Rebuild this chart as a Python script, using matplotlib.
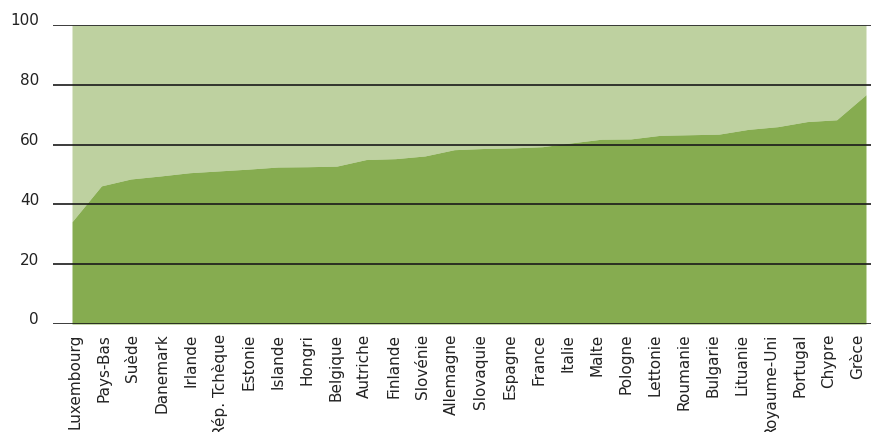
import matplotlib
matplotlib.use('Agg')
import matplotlib.pyplot as plt
import matplotlib.transforms as mtransforms
import numpy as np

plt.rcParams['font.family'] = 'DejaVu Sans'

# data
countries = ['Luxembourg', 'Pays-Bas', 'Suède', 'Danemark', 'Irlande', 'Rép. Tchèque',
             'Estonie', 'Islande', 'Hongri', 'Belgique', 'Autriche', 'Finlande',
             'Slovénie', 'Allemagne', 'Slovaquie', 'Espagne', 'France', 'Italie',
             'Malte', 'Pologne', 'Lettonie', 'Roumanie', 'Bulgarie', 'Lituanie',
             'Royaume-Uni', 'Portugal', 'Chypre', 'Grèce']
values = [34.2, 46.2, 48.5, 49.5, 50.6, 51.2, 51.8, 52.5, 52.6, 52.8, 55.0, 55.3,
          56.2, 58.3, 58.7, 58.9, 59.3, 60.6, 61.8, 61.9, 63.1, 63.3, 63.5, 65.1,
          66.0, 67.7, 68.3, 76.7]
total = [100] * len(countries)
yticks = [0, 20, 40, 60, 80, 100]

dark = '#86AC50'
light = '#BED1A0'

fig = plt.figure(figsize=(8.71, 4.32), dpi=100)
ax = fig.add_axes([53 / 871, 1 - 324 / 432, 1 - 53 / 871, (324 - 25) / 432])

x = np.arange(len(countries))
ax.fill_between(x, values, total, color=light, lw=0, zorder=1)
ax.fill_between(x, 0, values, color=dark, lw=0, zorder=1)

for y in yticks:
    ax.axhline(y, color='#1a1a1a', lw=1.2, zorder=3)

# extra room on the left so gridlines stick out past the area
ax.set_xlim(-0.646, 27.17)
ax.set_ylim(0, 100)

# category labels sit on a slightly tighter spacing than the area points
ax.set_xticks(0.09 + x * 0.986)
ax.set_xticklabels(countries, rotation=90, fontsize=11, color='#222222')
ax.set_yticks(yticks)
ax.set_yticklabels([str(v) for v in yticks], fontsize=11, color='#222222')
ax.tick_params(axis='x', length=0, pad=7)
ax.tick_params(axis='y', length=0, pad=10)

# lift y labels a bit above their gridlines
offset = mtransforms.ScaledTranslation(0, 4 / 72, fig.dpi_scale_trans)
for lab in ax.get_yticklabels():
    lab.set_transform(lab.get_transform() + offset)

for s in ax.spines.values():
    s.set_visible(False)

fig.savefig('out.png', dpi=100, facecolor='white')
